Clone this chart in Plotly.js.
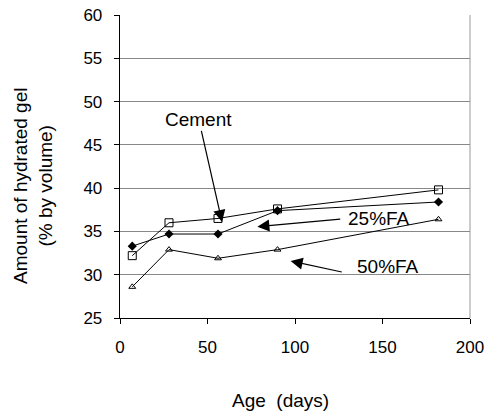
<!DOCTYPE html>
<html>
<head>
<meta charset="utf-8">
<script src="https://cdn.plot.ly/plotly-3.0.1.min.js"></script>
<style>html,body{margin:0;padding:0;background:#fff;}#chart{width:488px;height:413px;}</style>
</head>
<body>
<div id="chart"></div>
<script>
const ageDays = [7, 28, 56, 90, 182];
const cement = [32.2, 36.0, 36.5, 37.6, 39.8];
const fa25 = [33.3, 34.7, 34.7, 37.4, 38.4];
const fa50 = [28.6, 32.9, 31.9, 32.9, 36.4];
const seriesNames = ["Cement", "25%FA", "50%FA"];
const xTicks = [0, 50, 100, 150, 200];
const yTicks = [25, 30, 35, 40, 45, 50, 55, 60];
const xTitle = "Age  (days)";
const yTitle = "Amount of hydrated gel<br>(% by volume)";

const FONT = "Arial, 'Liberation Sans', sans-serif";

const traces = [
  {x: ageDays, y: cement, name: seriesNames[0], mode: "lines+markers",
   line: {color: "#000", width: 1},
   marker: {symbol: "square-open", size: 8, color: "#000", line: {width: 1, color: "#000"}}},
  {x: ageDays, y: fa25, name: seriesNames[1], mode: "lines+markers",
   line: {color: "#000", width: 1},
   marker: {symbol: "diamond", size: 7, color: "#000"}},
  {x: ageDays, y: fa50, name: seriesNames[2], mode: "lines+markers",
   line: {color: "#000", width: 1},
   marker: {symbol: "triangle-up-open", size: 6, color: "#000", line: {width: 1, color: "#000"}}}
];

function arrow(tx, ty, hx, hy) {
  return {x: hx, y: hy, ax: tx, ay: ty, xref: "x", yref: "y", axref: "x", ayref: "y",
          text: "", showarrow: true, arrowhead: 2, arrowsize: 2, arrowwidth: 1.2, arrowcolor: "#000"};
}
function label(txt, x, y) {
  return {x: x, y: y, xref: "x", yref: "y", text: txt, showarrow: false,
          font: {family: FONT, size: 19, color: "#000"}};
}
// pixel -> paper helpers for titles placed outside the plot area
const L = 120, T = 15, PW = 350, PH = 303;
const px = v => (v - L) / PW;
const py = v => (T + PH - v) / PH;

const layout = {
  width: 488, height: 413,
  margin: {l: L, r: 488 - L - PW, t: T, b: 413 - T - PH},
  paper_bgcolor: "#fff", plot_bgcolor: "#fff",
  showlegend: false,
  font: {family: FONT, color: "#000"},
  xaxis: {
    range: [0, 200], tickvals: xTicks, ticktext: xTicks.map(String),
    showgrid: false, zeroline: false,
    showline: true, linecolor: "#000", linewidth: 1.3,
    ticks: "outside", ticklen: 5, tickcolor: "#000", tickwidth: 1,
    ticklabelstandoff: 8,
    tickfont: {family: FONT, size: 17, color: "#000"},
    automargin: false
  },
  yaxis: {
    range: [25, 60], tickvals: yTicks, ticktext: yTicks.map(String),
    showgrid: true, gridcolor: "#888", gridwidth: 1, zeroline: false,
    showline: true, linecolor: "#000", linewidth: 1.3,
    ticks: "outside", ticklen: 5, tickcolor: "#000", tickwidth: 1,
    ticklabelstandoff: 8,
    tickfont: {family: FONT, size: 17, color: "#000"},
    automargin: false
  },
  shapes: [
    {type: "line", xref: "paper", yref: "paper", x0: 1, x1: 1, y0: 0, y1: 1,
     line: {color: "#999", width: 1}}
  ],
  annotations: [
    {text: yTitle, textangle: -90, xref: "paper", yref: "paper",
     x: px(33), y: py(186), xanchor: "center", yanchor: "middle",
     showarrow: false, font: {family: FONT, size: 19, color: "#000"}},
    {text: xTitle, xref: "paper", yref: "paper",
     x: px(280), y: py(400), xanchor: "center", yanchor: "middle",
     showarrow: false, font: {family: FONT, size: 19, color: "#000"}},
    label(seriesNames[0], 45.1, 47.9),
    arrow(46.3, 46.8, 58.3, 36.1),
    label(seriesNames[1], 148, 36.5),
    arrow(126.7, 36.44, 78.5, 35.55),
    label(seriesNames[2], 153.1, 31.0),
    arrow(127.6, 30.28, 97.5, 31.58)
  ]
};

Plotly.newPlot("chart", traces, layout, {displayModeBar: false, staticPlot: true});
</script>
</body>
</html>
